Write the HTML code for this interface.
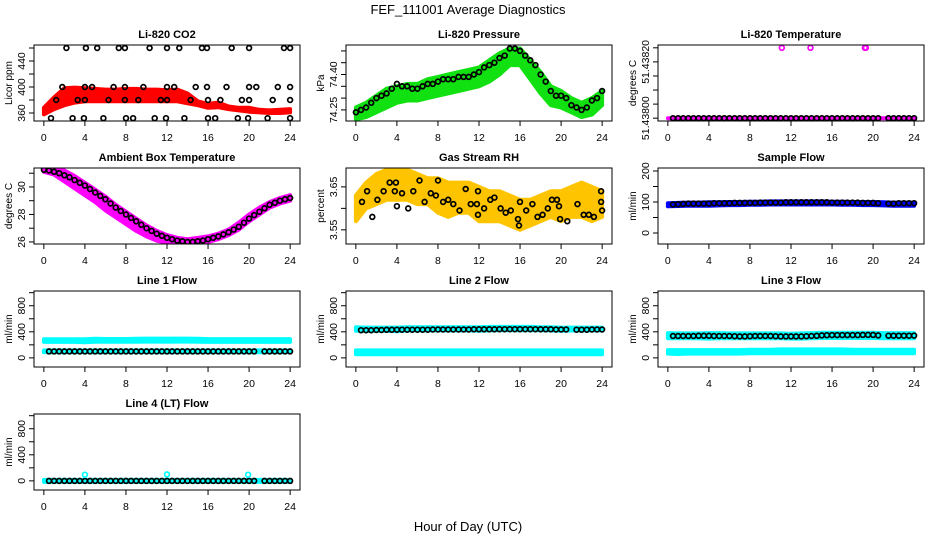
<!DOCTYPE html>
<html><head><meta charset="utf-8">
<style>
html,body{margin:0;padding:0;background:#fff;}
svg{display:block;font-family:"Liberation Sans",Arial,sans-serif;}
</style></head>
<body>
<svg id="chart" width="936" height="540" viewBox="0 0 936 540">
<rect x="0" y="0" width="936" height="540" fill="#fff"/>
<text x="468" y="14" text-anchor="middle" font-size="13">FEF_111001  Average Diagnostics</text>
<text x="468" y="531" text-anchor="middle" font-size="13">Hour of Day (UTC)</text>
</svg>
<script>
// ---------- shared categories ----------
const H25 = [0,1,2,3,4,5,6,7,8,9,10,11,12,13,14,15,16,17,18,19,20,21,22,23,24];
const H49 = [0,0.5,1,1.5,2,2.5,3,3.5,4,4.5,5,5.5,6,6.5,7,7.5,8,8.5,9,9.5,10,10.5,11,11.5,12,12.5,13,13.5,14,14.5,15,15.5,16,16.5,17,17.5,18,18.5,19,19.5,20,20.5,21,21.5,22,22.5,23,23.5,24];
const xTicks = [0,4,8,12,16,20,24];
const xTickLabels = ['0','4','8','12','16','20','24'];

// ---------- Li-820 CO2 ----------
const co2Lower = [358,366,372,376,378,378,378,378,378,378,378,378,378,378,375,372,368,369,366,364,362,361,360,360,361];
const co2Upper = [368,384,398,399,398,397,396,396,397,397,396,396,395,396,390,378,374,376,370,368,368,365,364,365,366];
const co2CircleHours = [2.2,4.1,5.2,7.3,7.9,10.3,12.0,13.2,15.4,15.9,18.3,20.0,23.4,24.0,
  1.8,4.0,4.7,6.8,7.9,9.7,12.0,12.7,14.8,15.9,17.8,20.0,20.7,22.8,24.0,
  1.2,3.3,4.0,6.3,7.9,9.2,11.4,12.0,14.3,16.0,17.2,19.3,20.0,22.3,24.0,
  0.7,2.8,3.9,5.8,8.0,8.7,10.8,11.9,13.7,16.0,16.7,18.9,19.9,21.8,24.0];
const co2CircleVals = [460,460,460,460,460,460,460,460,460,460,460,460,460,460,
  400,400,400,400,400,400,400,400,400,400,400,400,400,400,400,
  380,380,380,380,380,380,380,380,380,380,380,380,380,380,380,
  352,352,352,352,352,352,352,352,352,352,352,352,352,352,352];
const co2Ticks = [360,380,400,420,440,460];
const co2TickLabels = ['360','','400','','440',''];

// ---------- Li-820 Pressure ----------
const presLower = [74.21,74.22,74.24,74.26,74.28,74.29,74.29,74.30,74.31,74.32,74.33,74.34,74.35,74.37,74.40,74.44,74.44,74.38,74.32,74.27,74.26,74.24,74.22,74.23,74.27];
const presUpper = [74.26,74.28,74.31,74.34,74.35,74.36,74.36,74.38,74.39,74.40,74.41,74.42,74.43,74.46,74.49,74.51,74.51,74.46,74.41,74.35,74.33,74.30,74.28,74.30,74.33];
const presCircles = [74.24,74.25,74.26,74.28,74.30,74.31,74.32,74.34,74.36,74.35,74.35,74.34,74.34,74.35,74.36,74.36,74.37,74.38,74.38,74.38,74.39,74.39,74.39,74.40,74.41,74.43,74.44,74.45,74.47,74.48,74.51,74.51,74.50,74.48,74.46,74.44,74.40,74.37,74.33,74.31,74.31,74.30,74.27,74.26,74.25,74.26,74.29,74.30,74.33];
const presTicks = [74.25,74.30,74.35,74.40,74.45,74.50];
const presTickLabels = ['74.25','','','74.40','',''];

// ---------- Li-820 Temperature ----------
const tempLower = [51.438,51.438,51.438,51.438,51.438,51.438,51.438,51.438,51.438,51.438,51.438,51.438,51.438,51.438,51.438,51.438,51.438,51.438,51.438,51.438,51.438,51.438,51.438,51.438,51.438];
const tempUpper = [51.438,51.438,51.438,51.438,51.438,51.438,51.438,51.438,51.438,51.438,51.438,51.438,51.438,51.438,51.438,51.438,51.438,51.438,51.438,51.438,51.438,51.438,51.438,51.438,51.438];
const tempCircles = [null,51.438,51.438,51.438,51.438,51.438,51.438,51.438,51.438,51.438,51.438,51.438,51.438,51.438,51.438,51.438,51.438,51.438,51.438,51.438,51.438,51.438,51.438,51.438,51.438,51.438,51.438,51.438,51.438,51.438,51.438,51.438,51.438,51.438,51.438,51.438,51.438,51.438,51.438,51.438,51.438,51.438,null,51.438,51.438,51.438,51.438,51.438,51.438];
const tempSpikeHours = [11.1,13.9,19.2,19.3];
const tempSpikeVals = [51.4382,51.4382,51.4382,51.4382];
const tempTicks = [51.438,51.43804,51.43808,51.43812,51.43816,51.4382];
const tempTickLabels = ['51.43800','','','','51.43820',''];

// ---------- Ambient Box Temperature ----------
const ambLower = [31.1,30.9,30.4,29.9,29.4,28.9,28.3,27.8,27.3,26.8,26.4,26.1,25.95,25.9,25.9,25.95,26.0,26.2,26.5,26.9,27.5,28.0,28.5,28.8,29.0];
const ambUpper = [31.4,31.3,31.2,30.8,30.3,29.8,29.3,28.7,28.2,27.7,27.2,26.8,26.5,26.3,26.2,26.3,26.4,26.6,26.9,27.4,28.0,28.5,28.9,29.2,29.4];
const ambCircles = [31.25,31.2,31.1,31.0,30.85,30.7,30.5,30.3,30.1,29.85,29.6,29.35,29.1,28.8,28.5,28.25,28.0,27.75,27.5,27.25,27.0,26.8,26.6,26.45,26.3,26.2,26.1,26.05,26.0,26.0,26.05,26.1,26.2,26.3,26.4,26.55,26.7,26.9,27.1,27.4,27.7,27.95,28.2,28.45,28.7,28.85,29.0,29.1,29.2];
const ambTicks = [26,27,28,29,30,31];
const ambTickLabels = ['26','','28','','30',''];

// ---------- Gas Stream RH ----------
const rhLower = [3.57,3.60,3.61,3.62,3.62,3.62,3.61,3.61,3.59,3.58,3.59,3.59,3.57,3.57,3.57,3.56,3.55,3.56,3.57,3.58,3.57,3.58,3.58,3.57,3.58];
const rhUpper = [3.63,3.66,3.68,3.69,3.69,3.69,3.68,3.67,3.67,3.66,3.66,3.66,3.65,3.64,3.64,3.63,3.62,3.62,3.63,3.64,3.64,3.65,3.66,3.65,3.64];
const rhCircleHours = [0.6,1.1,1.6,2.1,2.7,3.3,3.8,3.9,4.0,4.5,5.1,5.6,6.2,6.7,7.3,7.8,8.0,8.5,9.0,9.5,10.1,10.7,11.2,11.8,11.9,11.9,12.5,13.1,13.5,14.1,14.6,15.1,15.8,15.9,16.0,16.6,17.2,17.7,18.2,18.7,19.1,19.6,19.8,19.9,20.6,21.6,22.2,22.7,23.2,23.9,23.9,24.0];
const rhCircleVals = [3.615,3.64,3.58,3.62,3.64,3.66,3.64,3.66,3.605,3.635,3.60,3.64,3.665,3.615,3.635,3.63,3.665,3.615,3.62,3.61,3.595,3.645,3.61,3.61,3.585,3.64,3.60,3.62,3.625,3.60,3.59,3.595,3.575,3.56,3.615,3.595,3.61,3.58,3.585,3.60,3.62,3.62,3.605,3.575,3.57,3.61,3.585,3.585,3.58,3.64,3.615,3.595];
const rhTicks = [3.55,3.60,3.65];
const rhTickLabels = ['3.55','','3.65'];

// ---------- Sample Flow ----------
const sfLower = [86,87,88,88,88,89,90,90,91,91,92,92,92,92,92,92,92,91,91,90,90,89,88,88,88];
const sfUpper = [96,97,98,98,99,99,100,100,101,101,102,102,102,102,102,102,101,101,100,100,100,99,98,98,98];
const sfCircles = [null,92,93,94,95,95,95,95,95,96,96,96,96,97,97,97,97,97,98,98,98,98,98,99,99,99,99,99,99,99,99,99,98,98,98,98,98,98,97,97,97,96,null,95,95,96,96,96,96];
const sfTicks = [0,50,100,150,200];
const sfTickLabels = ['0','','100','','200'];

// ---------- Line flows ----------
const flowTicks = [0,200,400,600,800,1000];
const flowTickLabels = ['0','','400','','800',''];
const l1HighLower = [245,245,245,245,240,248,248,248,248,248,250,250,248,250,250,248,245,245,245,245,245,245,245,245,245];
const l1HighUpper = [285,285,285,285,285,292,290,290,290,292,295,296,296,296,296,292,288,288,288,288,288,288,288,288,288];
const l1LowLower = [85,85,85,85,85,85,85,85,85,85,85,85,85,85,85,85,85,85,85,85,85,85,85,85,85];
const l1LowUpper = [115,115,115,115,115,115,115,115,115,115,115,115,115,115,115,115,115,115,115,115,115,115,115,115,115];
const l1Circles = [null,100,100,100,100,100,100,100,100,100,100,100,100,100,100,100,100,100,100,100,100,100,100,100,100,100,100,100,100,100,100,100,100,100,100,100,100,100,100,100,100,100,null,100,100,100,100,100,100];
const l2HighLower = [415,415,415,415,410,420,420,420,420,420,420,420,415,420,425,425,425,425,425,420,415,420,420,420,420];
const l2HighUpper = [470,465,465,465,465,470,470,470,470,470,470,470,470,475,475,475,475,475,470,470,465,465,465,465,465];
const l2LowLower = [55,55,55,55,55,55,55,55,55,55,55,55,55,55,55,55,55,55,55,55,55,55,55,55,55];
const l2LowUpper = [115,115,115,115,115,115,115,115,115,115,115,115,115,115,115,115,115,115,115,115,115,115,115,115,115];
const l2Circles = [null,425,425,425,428,428,430,430,432,432,432,432,432,432,432,435,435,435,435,435,435,435,435,438,438,438,438,438,440,440,440,440,440,440,440,440,438,438,438,436,436,435,null,432,432,432,435,435,435];
const l3HighLower = [300,300,300,300,295,300,300,300,300,300,300,300,295,295,300,305,305,305,305,305,305,300,300,300,300];
const l3HighUpper = [380,375,375,375,380,380,375,375,375,375,375,375,370,375,380,385,385,385,385,385,385,380,380,380,380];
const l3LowLower = [65,60,65,65,65,65,65,65,70,70,70,70,70,70,70,70,70,70,70,70,70,70,70,70,70];
const l3LowUpper = [120,120,120,120,120,120,120,120,125,125,125,130,130,130,130,130,130,130,125,125,125,125,125,125,125];
const l3Circles = [null,335,335,335,335,335,338,338,338,335,335,335,335,333,330,330,333,335,335,335,335,333,330,330,330,330,330,333,335,338,345,348,350,350,350,350,350,350,352,352,352,345,null,340,340,340,340,340,342];
const l4BandLower = [-15,-15,-15,-15,-15,-15,-15,-15,-15,-15,-15,-15,-15,-15,-15,-15,-15,-15,-15,-15,-15,-15,-15,-15,-15];
const l4BandUpper = [15,15,15,15,15,15,15,15,15,15,15,15,15,15,15,15,15,15,15,15,15,15,15,15,15];
const l4Circles = [null,0,0,0,0,0,0,0,0,0,0,0,0,0,0,0,0,0,0,0,0,0,0,0,0,0,0,0,0,0,0,0,0,0,0,0,0,0,0,0,0,0,null,0,0,0,0,0,0];
const l4SpikeHours = [4.0,12.0,19.9];
const l4SpikeVals = [95,100,95];

const NS = 'http://www.w3.org/2000/svg';
const svg = document.getElementById('chart');
function mk(tag, attrs, parent){
  const e = document.createElementNS(NS, tag);
  for (const k in attrs) e.setAttribute(k, attrs[k]);
  (parent || svg).appendChild(e);
  return e;
}

const colLeft = [34, 346, 658];
const rowTop = [45, 168, 291, 414];
const PW = 266, PH = 76;

function drawPanel(p){
  const L = colLeft[p.col], T = rowTop[p.row], R = L + PW, B = T + PH;
  const g = mk('g', {});
  
  
  const xs = h => L + PW * (h + 0.96) / 25.92;
  const ys = v => B - PH * (v - p.ymin) / (p.ymax - p.ymin);
  const clipId = 'clip-' + p.name;
  const cp = mk('clipPath', {id: clipId}, g);
  mk('rect', {x: L, y: T, width: PW, height: PH}, cp);
  const plot = mk('g', {'clip-path': 'url(#' + clipId + ')'}, g);
  
  
  (p.bands || []).forEach((bd, bi) => {
    const pts = [];
    for (let i = 0; i < H25.length; i++) pts.push(xs(H25[i]).toFixed(1) + ',' + ys(bd.upper[i]).toFixed(1));
    for (let i = H25.length - 1; i >= 0; i--) pts.push(xs(H25[i]).toFixed(1) + ',' + ys(bd.lower[i]).toFixed(1));
    const poly = mk('polygon', {points: pts.join(' '), fill: bd.color, stroke: bd.color, 'stroke-width': 4, 'stroke-linejoin': 'round'}, plot);
    
    
  });
  (p.circles || []).forEach((cs, ci) => {
    const n = Math.min(cs.hours.length, cs.vals.length);
    for (let i = 0; i < n; i++) {
      if (cs.vals[i] === null) continue;
      const c = mk('circle', {cx: xs(cs.hours[i]).toFixed(1), cy: ys(cs.vals[i]).toFixed(1), r: 2.4, fill: 'none', stroke: cs.color, 'stroke-width': 1.7}, plot);
      
      
    }
  });
  const box = mk('rect', {x: L, y: T, width: PW, height: PH, fill: 'none', stroke: '#000', 'stroke-width': 1}, g);
  
  
  const t = mk('text', {x: (L + R) / 2, y: T - 7, 'text-anchor': 'middle', 'font-size': 11, 'font-weight': 'bold'}, g);
  t.textContent = p.title;
  
  
  const xa = mk('g', {}, g);
  
  
  xTicks.forEach((v, i) => {
    const x = xs(v);
    mk('line', {x1: x, y1: B, x2: x, y2: B + 5, stroke: '#000'}, xa);
    const lb = mk('text', {x: x, y: B + 20, 'text-anchor': 'middle', 'font-size': 10.5}, xa);
    lb.textContent = xTickLabels[i];
    
    
  });
  const ya = mk('g', {}, g);
  
  
  p.ticks.forEach((v, i) => {
    const y = ys(v);
    mk('line', {x1: L - 5, y1: y, x2: L, y2: y, stroke: '#000'}, ya);
    if (p.tickLabels[i]) {
      const lb = mk('text', {x: L - 9, y: y, 'text-anchor': 'middle', 'font-size': 10.5, transform: 'rotate(-90 ' + (L - 9) + ' ' + y + ')'}, ya);
      lb.textContent = p.tickLabels[i];
      
      
    }
  });
  const yt = mk('text', {x: L - 22, y: (T + B) / 2, 'text-anchor': 'middle', 'font-size': 10, transform: 'rotate(-90 ' + (L - 22) + ' ' + ((T + B) / 2) + ')'}, ya);
  yt.textContent = p.ylab;
  
  
}

drawPanel({name:'co2', title:'Li-820 CO2', ylab:'Licor ppm', col:0, row:0, ymin:347.7, ymax:464.6,
  ticks:co2Ticks, tickLabels:co2TickLabels,
  bands:[{lower:co2Lower, upper:co2Upper, color:'#ff0000'}],
  circles:[{hours:co2CircleHours, vals:co2CircleVals, color:'#000'}]});
drawPanel({name:'pressure', title:'Li-820 Pressure', ylab:'kPa', col:1, row:0, ymin:74.203, ymax:74.525,
  ticks:presTicks, tickLabels:presTickLabels,
  bands:[{lower:presLower, upper:presUpper, color:'#11e011'}],
  circles:[{hours:H49, vals:presCircles, color:'#000'}]});
drawPanel({name:'li820-temp', title:'Li-820 Temperature', ylab:'degrees C', col:2, row:0, ymin:51.437992, ymax:51.438208,
  ticks:tempTicks, tickLabels:tempTickLabels,
  bands:[{lower:tempLower, upper:tempUpper, color:'#ff00ff'}],
  circles:[{hours:H49, vals:tempCircles, color:'#000'},{hours:tempSpikeHours, vals:tempSpikeVals, color:'#ff00ff'}]});
drawPanel({name:'ambient-temp', title:'Ambient Box Temperature', ylab:'degrees C', col:0, row:1, ymin:25.85, ymax:31.38,
  ticks:ambTicks, tickLabels:ambTickLabels,
  bands:[{lower:ambLower, upper:ambUpper, color:'#ff00ff'}],
  circles:[{hours:H49, vals:ambCircles, color:'#000'}]});
drawPanel({name:'rh', title:'Gas Stream RH', ylab:'percent', col:1, row:1, ymin:3.517, ymax:3.694,
  ticks:rhTicks, tickLabels:rhTickLabels,
  bands:[{lower:rhLower, upper:rhUpper, color:'#ffc400'}],
  circles:[{hours:rhCircleHours, vals:rhCircleVals, color:'#000'}]});
drawPanel({name:'sample-flow', title:'Sample Flow', ylab:'ml/min', col:2, row:1, ymin:-35.5, ymax:209.7,
  ticks:sfTicks, tickLabels:sfTickLabels,
  bands:[{lower:sfLower, upper:sfUpper, color:'#0000ff'}],
  circles:[{hours:H49, vals:sfCircles, color:'#000'}]});
drawPanel({name:'line1-flow', title:'Line 1 Flow', ylab:'ml/min', col:0, row:2, ymin:-140, ymax:1026,
  ticks:flowTicks, tickLabels:flowTickLabels,
  bands:[{lower:l1HighLower, upper:l1HighUpper, color:'#00ffff'},{lower:l1LowLower, upper:l1LowUpper, color:'#00ffff'}],
  circles:[{hours:H49, vals:l1Circles, color:'#000'}]});
drawPanel({name:'line2-flow', title:'Line 2 Flow', ylab:'ml/min', col:1, row:2, ymin:-140, ymax:1026,
  ticks:flowTicks, tickLabels:flowTickLabels,
  bands:[{lower:l2HighLower, upper:l2HighUpper, color:'#00ffff'},{lower:l2LowLower, upper:l2LowUpper, color:'#00ffff'}],
  circles:[{hours:H49, vals:l2Circles, color:'#000'}]});
drawPanel({name:'line3-flow', title:'Line 3 Flow', ylab:'ml/min', col:2, row:2, ymin:-140, ymax:1026,
  ticks:flowTicks, tickLabels:flowTickLabels,
  bands:[{lower:l3HighLower, upper:l3HighUpper, color:'#00ffff'},{lower:l3LowLower, upper:l3LowUpper, color:'#00ffff'}],
  circles:[{hours:H49, vals:l3Circles, color:'#000'}]});
drawPanel({name:'line4-flow', title:'Line 4 (LT) Flow', ylab:'ml/min', col:0, row:3, ymin:-140, ymax:1026,
  ticks:flowTicks, tickLabels:flowTickLabels,
  bands:[{lower:l4BandLower, upper:l4BandUpper, color:'#00ffff'}],
  circles:[{hours:H49, vals:l4Circles, color:'#000'},{hours:l4SpikeHours, vals:l4SpikeVals, color:'#00ffff'}]});
</script>
</body></html>
